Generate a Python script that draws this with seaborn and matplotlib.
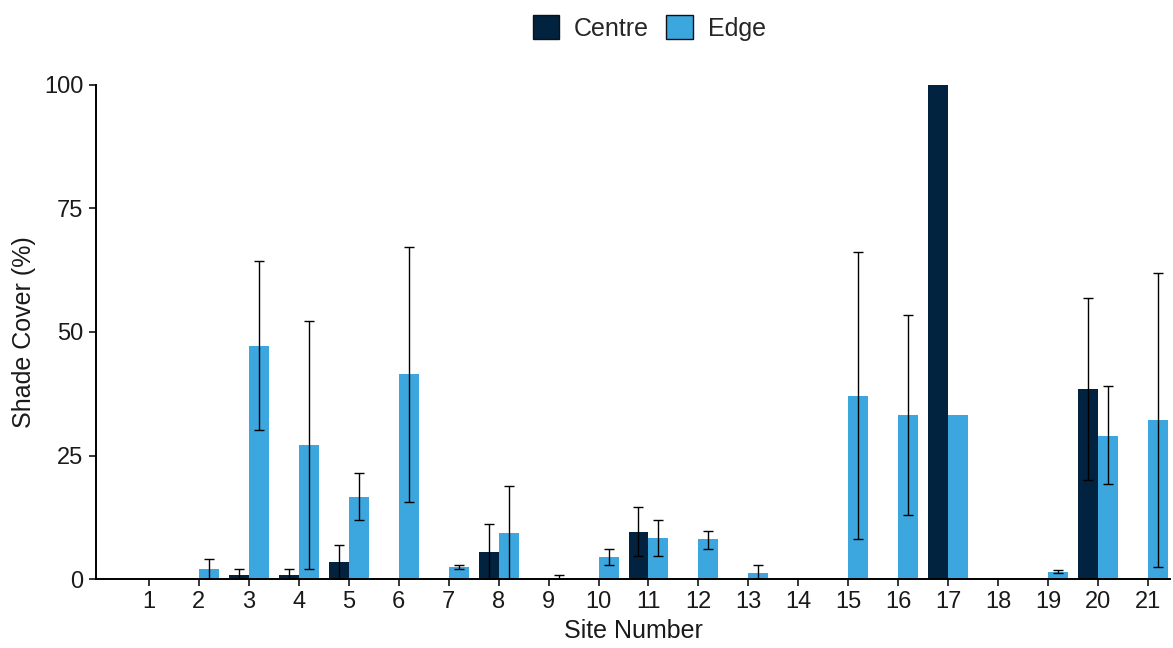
import numpy as np
import pandas as pd
import matplotlib
matplotlib.use("Agg")
import matplotlib.pyplot as plt
import seaborn as sns

# Site numbers on the x axis
sites = [str(i) for i in range(1, 22)]
positions = ["Centre", "Edge"]

# Mean shade cover (%) per site
centre_mean = [0, 0, 0.9, 0.9, 3.4, 0, 0, 5.5, 0, 0, 9.6, 0, 0, 0, 0, 0, 100, 0, 0, 38.4, 0]
edge_mean = [0, 2.0, 47.2, 27.1, 16.7, 41.4, 2.4, 9.4, 0.3, 4.5, 8.4, 8.0, 1.3, 0,
             37.1, 33.2, 33.2, 0, 1.5, 29.0, 32.2]

# Error bar limits (NaN where no error bar is drawn)
nan = np.nan
centre_lo = [nan, nan, 0, 0, 0, nan, nan, 0, nan, nan, 4.7, nan, nan, nan, nan, nan,
             nan, nan, nan, 20.0, nan]
centre_hi = [nan, nan, 2.0, 2.0, 6.9, nan, nan, 11.1, nan, nan, 14.6, nan, nan, nan, nan, nan,
             nan, nan, nan, 56.9, nan]
edge_lo = [nan, 0, 30.2, 2.0, 11.9, 15.6, 2.0, 0, 0, 2.9, 4.7, 6.1, 0, nan,
           8.0, 13.0, nan, nan, 1.2, 19.2, 2.4]
edge_hi = [nan, 4.1, 64.4, 52.2, 21.5, 67.2, 2.8, 18.8, 0.75, 6.1, 11.9, 9.8, 2.8, nan,
           66.2, 53.4, nan, nan, 1.9, 39.0, 62.0]

palette = {"Centre": "#02233F", "Edge": "#3BA7DE"}

df = pd.DataFrame({
    "Site Number": sites * 2,
    "Position": ["Centre"] * len(sites) + ["Edge"] * len(sites),
    "Shade Cover (%)": centre_mean + edge_mean,
})

sns.set_theme(style="ticks")
plt.rcParams["font.family"] = ["Liberation Sans", "DejaVu Sans"]

fig = plt.figure(figsize=(11.73, 6.48), dpi=100)
ax = fig.add_axes([96 / 1173, 1 - 579 / 648, (1170 - 96) / 1173, (579 - 85) / 648])

sns.barplot(data=df, x="Site Number", y="Shade Cover (%)", hue="Position",
            order=sites, hue_order=positions, palette=palette,
            errorbar=None, width=0.8, saturation=1, linewidth=0, ax=ax, legend=False)

# Error bars centred on each bar
limits = {"Centre": (centre_mean, centre_lo, centre_hi),
          "Edge": (edge_mean, edge_lo, edge_hi)}
for container, pos in zip(ax.containers, positions):
    means, lo, hi = limits[pos]
    for bar, m, l, h in zip(container, means, lo, hi):
        if np.isnan(l):
            continue
        xc = bar.get_x() + bar.get_width() / 2
        ax.errorbar(xc, m, yerr=[[m - l], [h - m]], fmt="none", ecolor="black",
                    elinewidth=1.0, capsize=3.5, capthick=1.0, zorder=3)

ax.set_ylim(0, 100)
ax.set_xlim(-1.06, 20.44)
ax.set_yticks([0, 25, 50, 75, 100])
sns.despine(ax=ax)
for side in ("left", "bottom"):
    ax.spines[side].set_linewidth(1.4)
    ax.spines[side].set_color("black")
ax.tick_params(axis="both", length=5, width=1.1, color="black",
               labelsize=17, labelcolor="#1a1a1a", pad=4)
ax.set_xlabel("Site Number", fontsize=18, color="#1a1a1a", labelpad=4)
ax.set_ylabel("Shade Cover (%)", fontsize=18, color="#1a1a1a", labelpad=6)

handles = [plt.Rectangle((0, 0), 1, 1, facecolor=palette[p], edgecolor="#111111", linewidth=1.0)
           for p in positions]
fig.legend(handles, positions, loc="center", bbox_to_anchor=(649 / 1173, 1 - 28 / 648),
           ncol=2, frameon=False, fontsize=18, handlelength=1.05, handleheight=1.05,
           handletextpad=0.6, columnspacing=0.7)

fig.savefig("out.png", dpi=100)
